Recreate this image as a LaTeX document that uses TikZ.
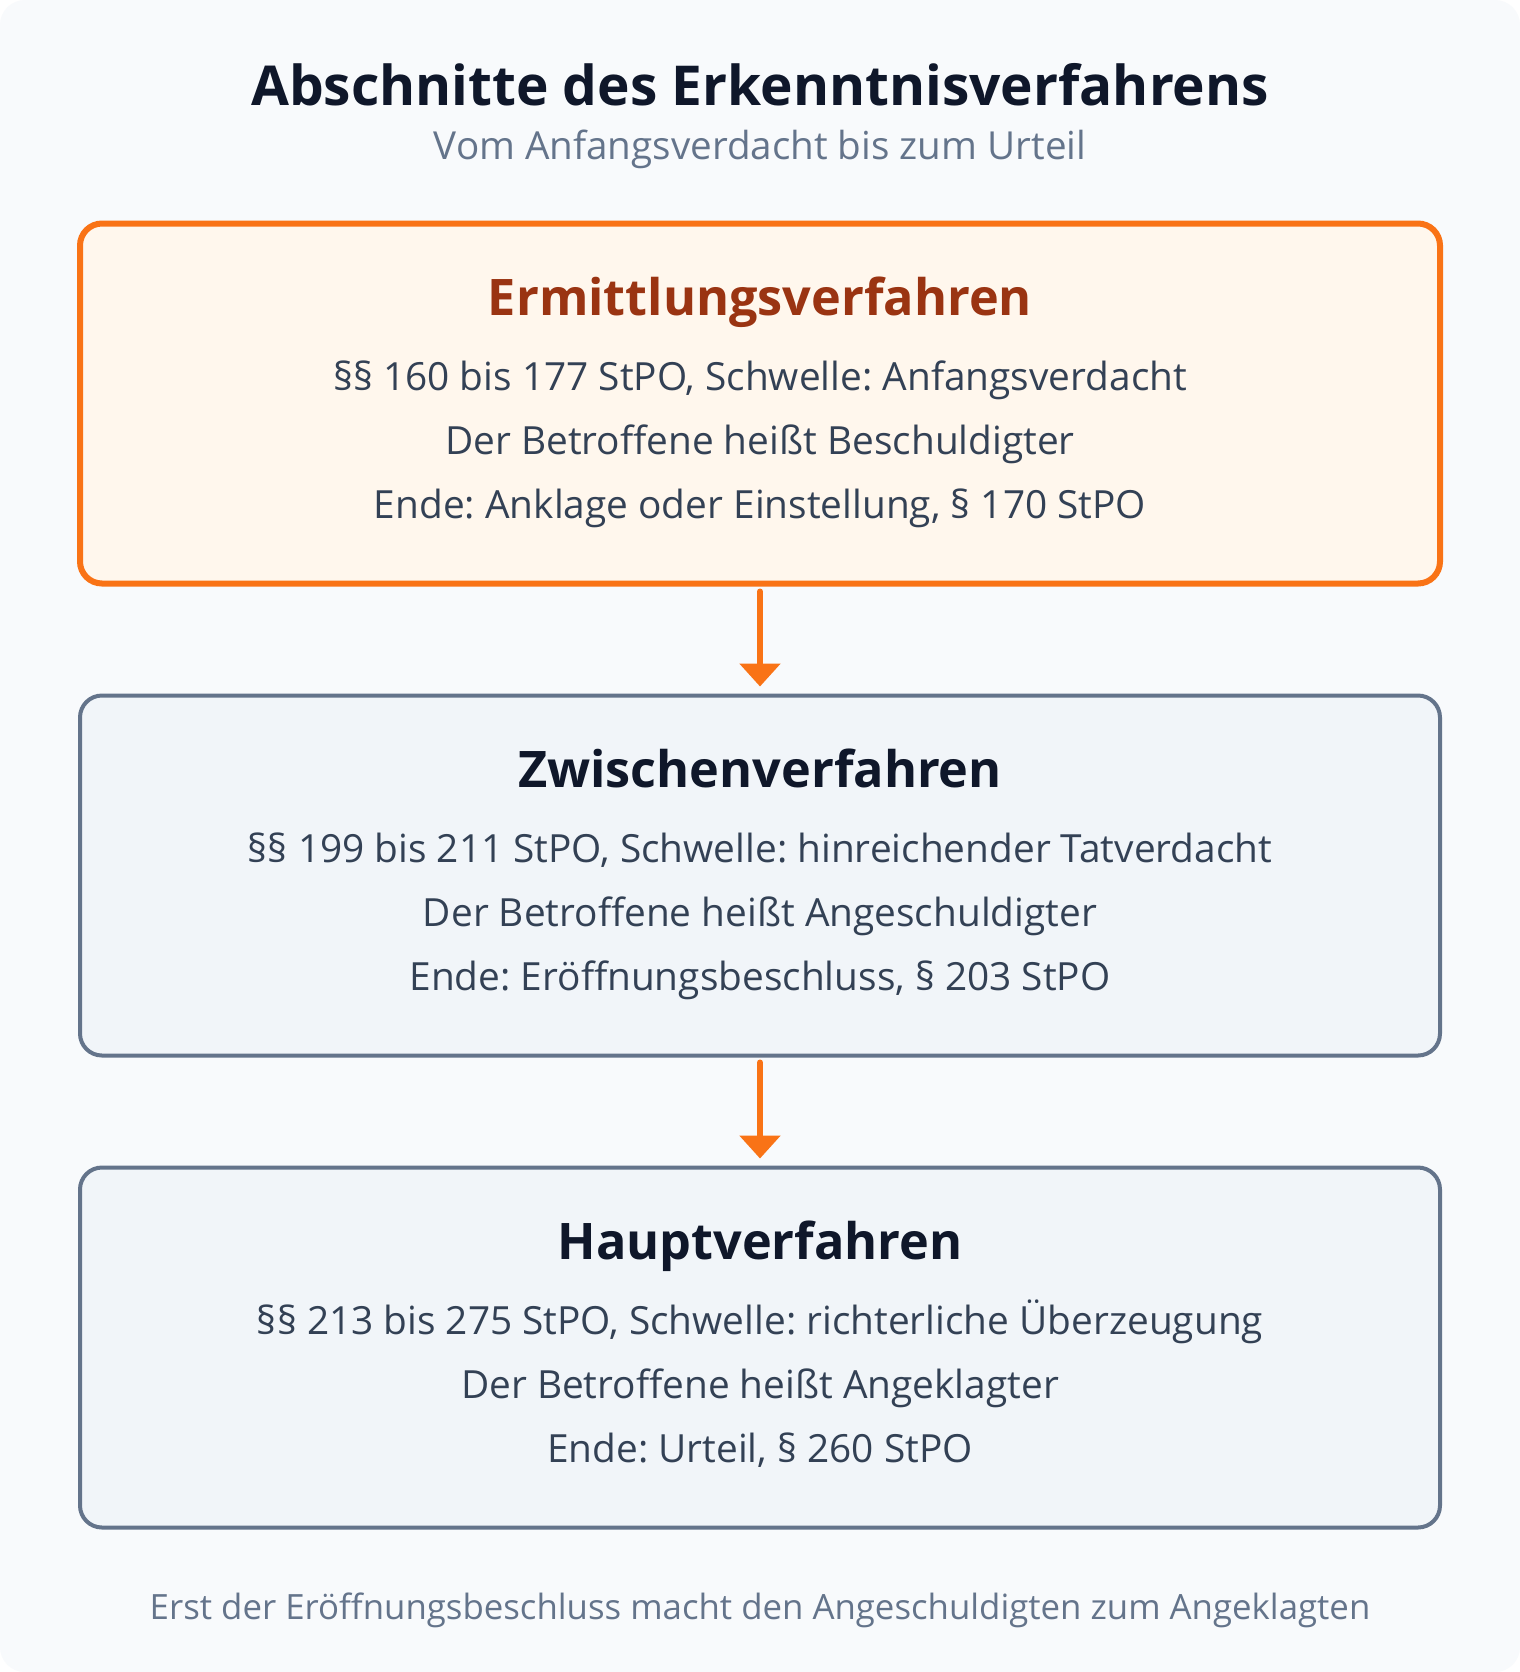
\documentclass[tikz,border=0pt]{standalone}
\usepackage{fontspec}
\setmainfont{Open Sans}
\usepackage{tikz}
\usetikzlibrary{arrows.meta,positioning,calc}
\frenchspacing
\definecolor{canvas}{HTML}{F8FAFC}
\definecolor{stageorange}{HTML}{F97316}
\definecolor{orangefill}{HTML}{FFF7ED}
\definecolor{darkorange}{HTML}{9A3412}
\definecolor{slateline}{HTML}{64748B}
\definecolor{slatefill}{HTML}{F1F5F9}
\definecolor{ink}{HTML}{0F172A}
\definecolor{bodytext}{HTML}{334155}
\tikzset{
    stage box/.style={draw=slateline,fill=slatefill,line width=2pt,rounded corners=11pt,
        minimum width=680pt,minimum height=180pt,inner sep=0pt},
    first stage box/.style={stage box,draw=stageorange,fill=orangefill,line width=3pt},
    heading/.style={anchor=base,color=ink,font=\fontsize{27.5}{32}\selectfont\bfseries},
    subheading/.style={anchor=base,color=slateline,font=\fontsize{19.3}{23}\selectfont},
    stage title/.style={anchor=base,color=ink,font=\fontsize{25.2}{30}\selectfont\bfseries},
    stage text/.style={anchor=base,color=bodytext,font=\fontsize{19.4}{23}\selectfont},
    footnote text/.style={anchor=base,color=slateline,font=\fontsize{17.4}{21}\selectfont},
    arr/.style={-{Triangle[width=20pt,length=11.5pt]},line width=3pt,color=stageorange,line cap=round},
}

\begin{document}
\begin{tikzpicture}[x=0.5pt,y=-0.5pt]
    \useasboundingbox (0,0) rectangle (1520,1672);
    \fill[white] (0,0) rectangle (1520,1672);
    \fill[canvas,rounded corners=12.5pt] (0,0) rectangle (1520,1672);
    \node[heading] (title) at (760,105) {Abschnitte des Erkenntnisverfahrens};
    \node[subheading] (subtitle) at (760,159) {Vom Anfangsverdacht bis zum Urteil};
    % die drei Abschnitte
    \node[first stage box] (E) at (760,403.5) {};
    \node[stage box] (Z) at (760,875.5) {};
    \node[stage box] (H) at (760,1347.5) {};
    \draw[arr,shorten <=2.5pt,shorten >=3.5pt] (E) -- (Z);
    \draw[arr,shorten <=2.5pt,shorten >=3.5pt] (Z) -- (H);
    % Ermittlungsverfahren
    \node[stage title,color=darkorange] (E0) at (760,315) {Ermittlungsverfahren};
    \node[stage text] (E1) at (760,390) {§§ 160 bis 177 StPO, Schwelle: Anfangsverdacht};
    \node[stage text] (E2) at (760,454) {Der Betroffene heißt Beschuldigter};
    \node[stage text] (E3) at (760,518) {Ende: Anklage oder Einstellung, § 170 StPO};
    % Zwischenverfahren
    \node[stage title] (Z0) at (760,787) {Zwischenverfahren};
    \node[stage text] (Z1) at (760,862) {§§ 199 bis 211 StPO, Schwelle: hinreichender Tatverdacht};
    \node[stage text] (Z2) at (760,926) {Der Betroffene heißt Angeschuldigter};
    \node[stage text] (Z3) at (760,990) {Ende: Eröffnungsbeschluss, § 203 StPO};
    % Hauptverfahren
    \node[stage title] (H0) at (760,1259) {Hauptverfahren};
    \node[stage text] (H1) at (760,1334) {§§ 213 bis 275 StPO, Schwelle: richterliche Überzeugung};
    \node[stage text] (H2) at (760,1398) {Der Betroffene heißt Angeklagter};
    \node[stage text] (H3) at (760,1462) {Ende: Urteil, § 260 StPO};
    \node[footnote text] (note) at (760,1619) {Erst der Eröffnungsbeschluss macht den Angeschuldigten zum Angeklagten};
\end{tikzpicture}
\end{document}
